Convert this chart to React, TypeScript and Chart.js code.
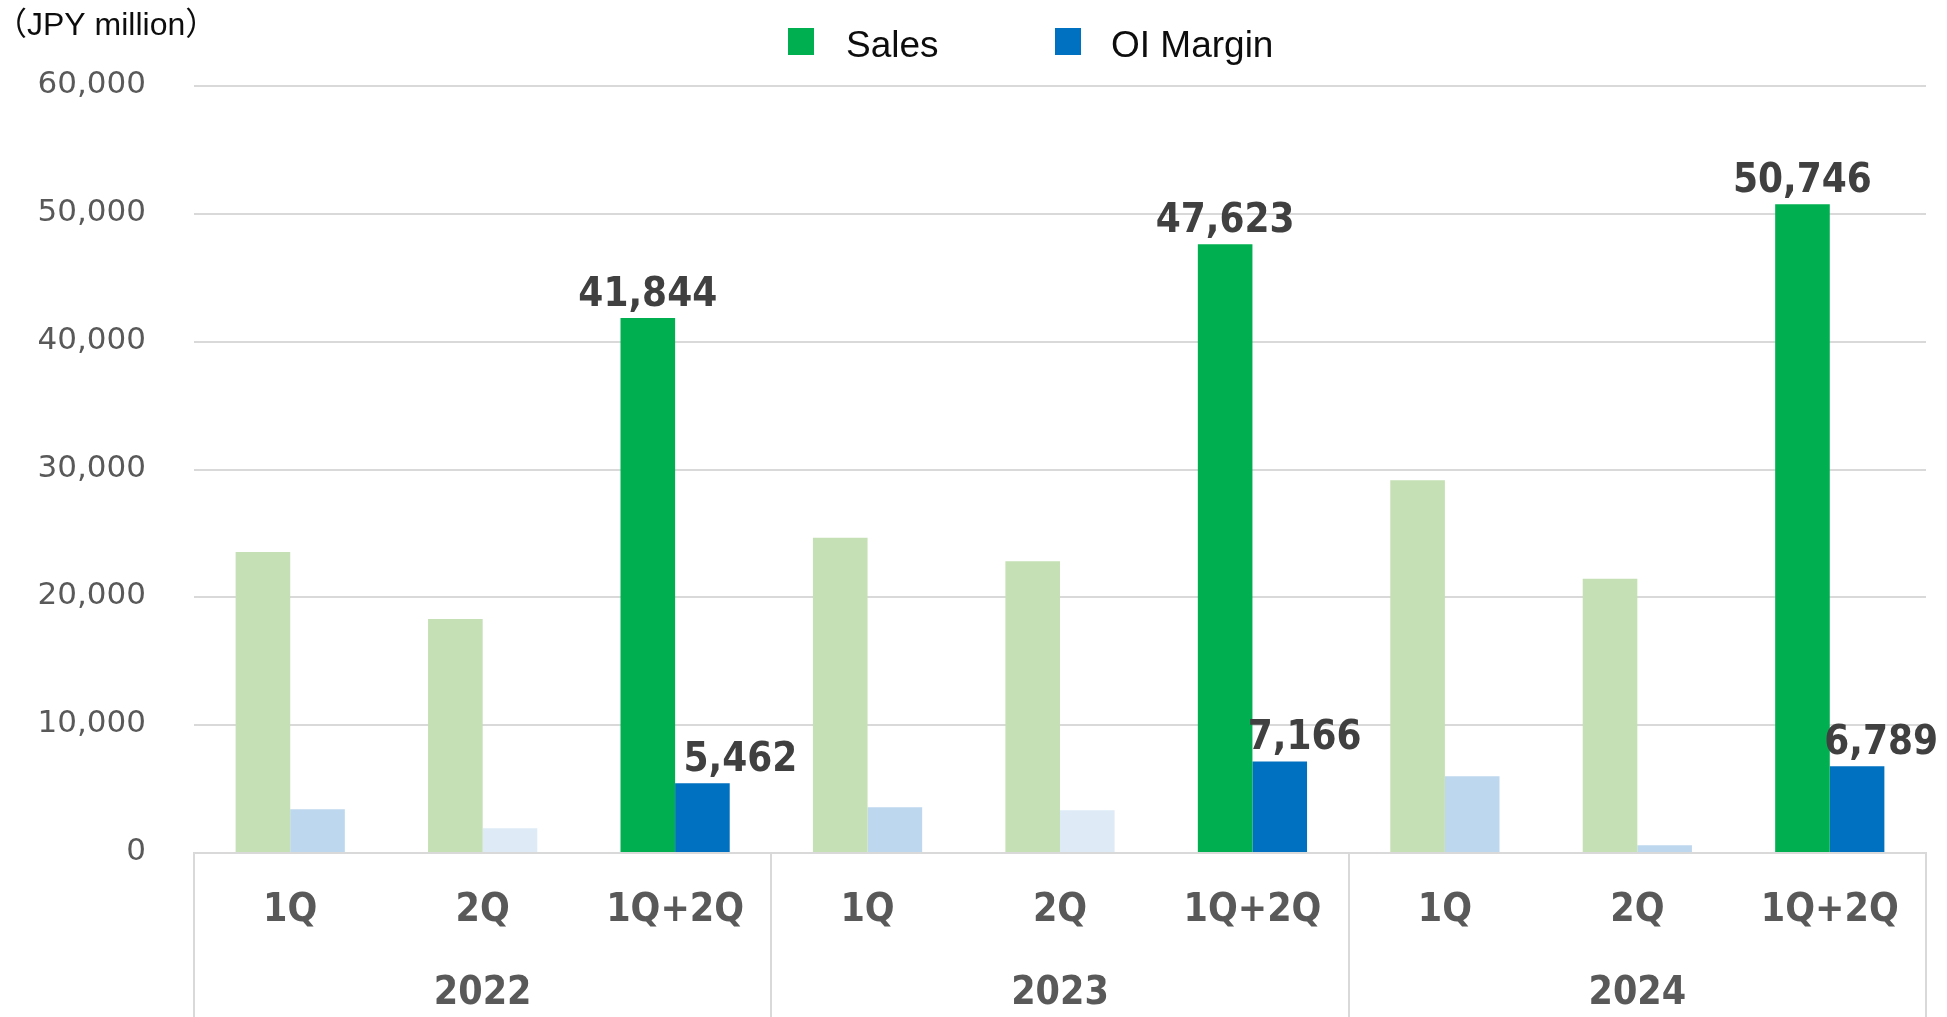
import React, { useEffect, useRef } from 'react';
import { Chart, registerables } from 'chart.js';

Chart.register(...registerables);

// ---- data ----
const years = ['2022', '2023', '2024'];
const quarters = ['1Q', '2Q', '1Q+2Q'];
const salesValues = [23550, 18300, 41844, 24670, 22820, 47623, 29150, 21460, 50746];
const oiValues = [3420, 1940, 5462, 3570, 3340, 7166, 6000, 600, 6789];
const yTickValues = [0, 10000, 20000, 30000, 40000, 50000, 60000];
const seriesNames = ['Sales', 'OI Margin'];
const unitLabel = '（JPY million）';

// ---- styles ----
const SALES_DARK = '#00B050';
const SALES_LIGHT = '#C5E0B4';
const OI_DARK = '#0070C0';
const OI_LIGHT = '#BDD7EE';
const OI_LIGHTER = '#DEEBF7';
const salesColors = ['light', 'light', 'dark', 'light', 'light', 'dark', 'light', 'light', 'dark'].map((t) =>
  t === 'dark' ? SALES_DARK : SALES_LIGHT
);
const oiColors = ['light', 'lighter', 'dark', 'light', 'lighter', 'dark', 'light', 'light', 'dark'].map((t) =>
  t === 'dark' ? OI_DARK : t === 'lighter' ? OI_LIGHTER : OI_LIGHT
);
const oiLabelShift = [0, 0, 38, 0, 0, 25, 0, 0, 24];
const GRID = '#d9d9d9';

const categoryLabels: string[][] = [];
years.forEach((y) => {
  quarters.forEach((q, qi) => {
    categoryLabels.push([q, qi === 1 ? y : '']);
  });
});

const fmt = (v: number) => v.toLocaleString('en-US');

const overlayPlugin = {
  id: 'overlay',
  afterDatasetsDraw(chart: any) {
    const ctx = chart.ctx;
    ctx.save();
    // data labels for half-year totals
    ctx.font = "bold 40px 'DejaVu Sans Condensed', 'DejaVu Sans'";
    ctx.fillStyle = '#404040';
    ctx.textAlign = 'center';
    ctx.textBaseline = 'alphabetic';
    [0, 1].forEach((di) => {
      const meta = chart.getDatasetMeta(di);
      meta.data.forEach((bar: any, i: number) => {
        if (quarters[i % 3] !== '1Q+2Q') return;
        const v = chart.data.datasets[di].data[i] as number;
        const dx = di === 1 ? oiLabelShift[i] : 0;
        ctx.fillText(fmt(v), bar.x + dx, bar.y - 12);
      });
    });
    // legend
    ctx.font = "37px 'Liberation Sans', Arial, sans-serif";
    ctx.textAlign = 'left';
    ctx.fillStyle = SALES_DARK;
    ctx.fillRect(788, 28, 26, 27);
    ctx.fillStyle = OI_DARK;
    ctx.fillRect(1055, 28, 26, 27);
    ctx.fillStyle = '#0d0d0d';
    ctx.fillText(seriesNames[0], 846, 57);
    ctx.fillText(seriesNames[1], 1111, 57);
    // unit label
    ctx.font = "32px 'Liberation Sans', 'Noto Sans CJK JP', sans-serif";
    ctx.fillText(unitLabel, -5, 35);
    ctx.restore();
  },
};

export default function App() {
  const ref = useRef<HTMLCanvasElement>(null);
  useEffect(() => {
    if (!ref.current) return;
    const chart = new Chart(ref.current, {
      type: 'bar',
      data: {
        labels: categoryLabels,
        datasets: [
          {
            label: seriesNames[0],
            data: salesValues,
            backgroundColor: salesColors,
            borderWidth: 0,
            categoryPercentage: 0.5675,
            barPercentage: 1,
          },
          {
            label: seriesNames[1],
            data: oiValues,
            backgroundColor: oiColors,
            borderWidth: 0,
            categoryPercentage: 0.5675,
            barPercentage: 1,
          },
        ],
      },
      options: {
        responsive: false,
        animation: false,
        devicePixelRatio: 1,
        layout: { padding: { top: 86, right: 21, left: 0, bottom: 0 } },
        plugins: {
          legend: { display: false },
          title: { display: false },
          tooltip: { enabled: false },
        },
        scales: {
          x: {
            offset: true,
            grid: {
              offset: true,
              drawOnChartArea: false,
              drawTicks: true,
              tickLength: 170,
              lineWidth: 2,
              color: (c: any) => (c.index === undefined || c.index % 3 === 0 ? GRID : 'rgba(0,0,0,0)'),
            },
            border: { display: true, color: GRID, width: 2 },
            ticks: {
              padding: -153,
              autoSkip: false,
              maxRotation: 0,
              color: '#595959',
              font: { family: "'DejaVu Sans Condensed', 'DejaVu Sans'", size: 39, weight: 'bold', lineHeight: '82.5px' },
            },
            afterFit: (s: any) => {
              s.height = 164;
            },
          },
          y: {
            min: yTickValues[0],
            max: yTickValues[yTickValues.length - 1],
            afterBuildTicks: (s: any) => {
              s.ticks = yTickValues.map((v) => ({ value: v }));
            },
            grid: { color: GRID, lineWidth: 2, drawTicks: false },
            border: { display: false },
            ticks: {
              padding: 48,
              labelOffset: -1,
              color: '#595959',
              font: { family: "'DejaVu Sans'", size: 31 },
              callback: (v: any) => fmt(Number(v)),
            },
            afterFit: (s: any) => {
              s.width = 194;
            },
          },
        },
      },
      plugins: [overlayPlugin],
    } as any);
    return () => chart.destroy();
  }, []);
  return (
    <div style={{ position: 'absolute', left: 0, top: 0, width: 1947, height: 1017, overflow: 'hidden', background: '#fff' }}>
      <canvas ref={ref} width={1947} height={1017} style={{ display: 'block' }} />
    </div>
  );
}
